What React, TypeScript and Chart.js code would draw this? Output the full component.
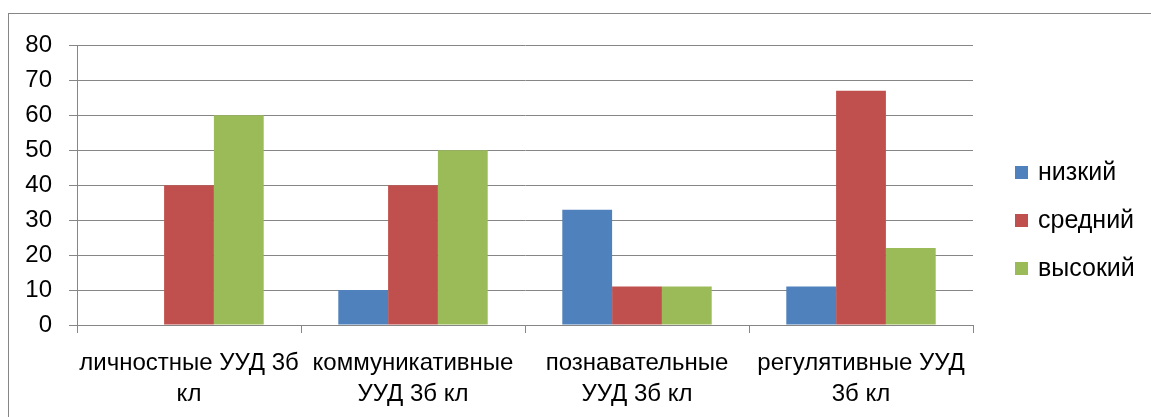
import React, { useEffect, useRef } from "react";
import { Chart, registerables } from "chart.js";

Chart.register(...registerables);

const categories: string[][] = [
  ["личностные УУД 3б", "кл"],
  ["коммуникативные", "УУД 3б кл"],
  ["познавательные", "УУД 3б кл"],
  ["регулятивные УУД", "3б кл"],
];
const seriesNames = ["низкий", "средний", "высокий"];
const lowValues = [0, 10, 33, 11];
const midValues = [40, 40, 11, 67];
const highValues = [60, 50, 11, 22];
const seriesColors = ["#4F81BD", "#C0504D", "#9BBB59"];
const yMin = 0;
const yMax = 80;
const yStep = 10;

const FONT = "'Liberation Sans', Arial, sans-serif";
const GRID = "#868686";

const legendPlugin = {
  id: "sideLegend",
  afterDraw(chart: any) {
    const ctx = chart.ctx;
    const area = chart.chartArea;
    const ds = chart.data.datasets;
    const mid = 206;
    const gap = 48;
    ctx.save();
    ctx.font = `25px ${FONT}`;
    ctx.textBaseline = "middle";
    ctx.textAlign = "left";
    ds.forEach((d: any, i: number) => {
      const cy = mid + (i - (ds.length - 1) / 2) * gap;
      const x = area.right + 42;
      ctx.fillStyle = d.backgroundColor;
      ctx.fillRect(x, cy - 6, 13, 13);
      ctx.fillStyle = "#000";
      ctx.fillText(d.label, x + 23, cy + 1);
    });
    ctx.restore();
  },
};

export default function App() {
  const ref = useRef<HTMLCanvasElement>(null);
  useEffect(() => {
    if (!ref.current) return;
    const chart = new Chart(ref.current, {
      type: "bar",
      data: {
        labels: categories,
        datasets: [lowValues, midValues, highValues].map((vals, i) => ({
          label: seriesNames[i],
          data: vals,
          backgroundColor: seriesColors[i],
          borderWidth: 0,
          categoryPercentage: 0.667,
          barPercentage: 1,
        })),
      },
      options: {
        animation: false,
        responsive: false,
        layout: { padding: { top: 29, right: 178, left: 0, bottom: 0 } },
        plugins: {
          legend: { display: false },
          tooltip: { enabled: false },
        },
        scales: {
          x: {
            grid: {
              drawOnChartArea: false,
              drawTicks: true,
              tickLength: 8,
              color: GRID,
              offset: true,
            },
            border: { display: true, color: GRID, width: 1 },
            ticks: {
              color: "#000",
              font: { family: FONT, size: 24, lineHeight: 1.3 },
              padding: 15,
              maxRotation: 0,
              autoSkip: false,
            },
            afterFit(scale: any) {
              scale.height = 92;
            },
          },
          y: {
            min: yMin,
            max: yMax,
            grid: { color: GRID, tickLength: 8, lineWidth: 1 },
            border: { display: true, color: GRID, width: 1 },
            ticks: {
              stepSize: yStep,
              color: "#000",
              font: { family: FONT, size: 24 },
              padding: 17,
            },
            afterFit(scale: any) {
              scale.width = 68;
            },
          },
        },
      },
      plugins: [legendPlugin],
    });
    return () => chart.destroy();
  }, []);

  return (
    <div
      style={{
        position: "absolute",
        left: 8,
        top: 13,
        width: 1143,
        height: 404,
        borderTop: `1px solid ${GRID}`,
        borderLeft: `1px solid ${GRID}`,
        boxSizing: "border-box",
        overflow: "hidden",
      }}
    >
      <canvas ref={ref} width={1142} height={403} style={{ display: "block" }} />
    </div>
  );
}
